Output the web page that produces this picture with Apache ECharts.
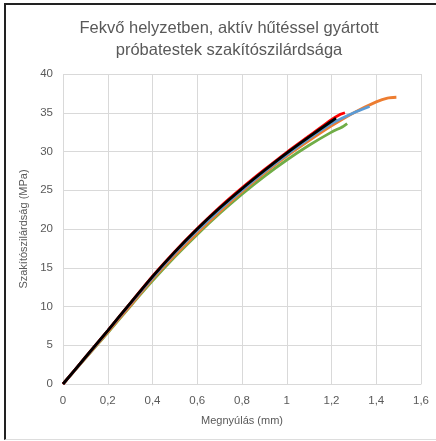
<!DOCTYPE html>
<html>
<head>
<meta charset="utf-8">
<script src="https://cdn.jsdelivr.net/npm/echarts@6/dist/echarts.min.js"></script>
<style>
html,body{margin:0;padding:0;background:#fff;}
#wrap{position:relative;width:436px;height:441px;}
#chart{position:absolute;left:0;top:0;width:436px;height:441px;}
#frame{position:absolute;left:4px;top:3px;width:440px;height:434px;border-left:2px solid #222;border-top:2px solid #222;border-bottom:1px solid #ddd;pointer-events:none;}
</style>
</head>
<body>
<div id="wrap"><div id="chart"></div><div id="frame"></div></div>
<script>
const titleText = 'Fekvő helyzetben, aktív hűtéssel gyártott\npróbatestek szakítószilárdsága';
const xAxisName = 'Megnyúlás (mm)';
const yAxisName = 'Szakítószilárdság (MPa)';
const xTickLabels = ['0','0,2','0,4','0,6','0,8','1','1,2','1,4','1,6'];
const yTickLabels = ['0','5','10','15','20','25','30','35','40'];

const greenX  = [0,0.1,0.2,0.3,0.4,0.5,0.6,0.7,0.8,0.9,1.0,1.1,1.2,1.25,1.27];
const greenY  = [0,3.3,6.6,10.0,13.3,16.4,19.3,22.0,24.5,26.8,28.9,30.8,32.5,33.2,33.6];
const orangeX = [0,0.1,0.2,0.3,0.4,0.5,0.6,0.7,0.8,0.9,1.0,1.1,1.2,1.3,1.4,1.45,1.49];
const orangeY = [0,3.35,6.7,10.1,13.5,16.6,19.5,22.2,24.8,27.2,29.4,31.4,33.3,35.0,36.4,36.9,37.0];
const blueX   = [0,0.1,0.2,0.3,0.4,0.5,0.6,0.7,0.8,0.9,1.0,1.1,1.2,1.3,1.37];
const blueY   = [0,3.4,6.85,10.3,13.7,16.9,19.8,22.5,25.0,27.4,29.6,31.7,33.6,35.0,35.8];
const redX    = [0,0.1,0.2,0.3,0.4,0.5,0.6,0.7,0.8,0.9,1.0,1.1,1.2,1.24,1.26];
const redY    = [0,3.45,6.9,10.4,13.9,17.1,20.05,22.8,25.3,27.65,29.9,32.0,34.1,34.8,35.0];
const blackX  = [0,0.1,0.2,0.3,0.4,0.5,0.6,0.7,0.8,0.9,1.0,1.1,1.2,1.22];
const blackY  = [0,3.45,6.9,10.4,13.85,17.05,20.0,22.7,25.2,27.55,29.8,31.9,33.9,34.3];

function pairs(xs, ys){ return xs.map((x,i)=>[x, ys[i]]); }
function mk(name, xs, ys, color){
  return {name:name, type:'line', data:pairs(xs,ys), showSymbol:false, smooth:0.2,
    lineStyle:{color:color, width:2.8}, itemStyle:{color:color}, animation:false};
}

const chart = echarts.init(document.getElementById('chart'), null, {renderer:'canvas'});
const font = 'Liberation Sans, Arial, sans-serif';
chart.setOption({
  animation:false,
  textStyle:{fontFamily:font},
  title:{text:titleText, left:224, top:12, textAlign:'center',
    textStyle:{fontFamily:font, fontSize:16.5, fontWeight:'normal', color:'#595959', lineHeight:22}},
  grid:{left:63, right:15, top:74, bottom:57, containLabel:false},
  xAxis:{type:'value', min:0, max:1.6, interval:0.2,
    name:xAxisName, nameLocation:'middle', nameGap:31,
    nameTextStyle:{fontFamily:font, fontSize:11, color:'#595959'},
    axisLine:{show:true, lineStyle:{color:'#D9D9D9', width:1}},
    axisTick:{show:false},
    axisLabel:{color:'#595959', fontSize:11.5, margin:11, formatter:(v)=>xTickLabels[Math.round(v/0.2)]},
    splitLine:{show:true, lineStyle:{color:'#D9D9D9', width:1}}},
  yAxis:{type:'value', min:0, max:40, interval:5,
    name:yAxisName, nameLocation:'middle', nameGap:22,
    nameTextStyle:{fontFamily:font, fontSize:11, color:'#595959'},
    axisLine:{show:false}, axisTick:{show:false},
    axisLabel:{color:'#595959', fontSize:11.5, margin:10, formatter:(v)=>yTickLabels[Math.round(v/5)]},
    splitLine:{show:true, lineStyle:{color:'#D9D9D9', width:1}}},
  series:[
    mk('green', greenX, greenY, '#70AD47'),
    mk('orange', orangeX, orangeY, '#ED7D31'),
    mk('blue', blueX, blueY, '#5B9BD5'),
    mk('red', redX, redY, '#FF0000'),
    mk('black', blackX, blackY, '#000000')
  ]
});
</script>
</body>
</html>
